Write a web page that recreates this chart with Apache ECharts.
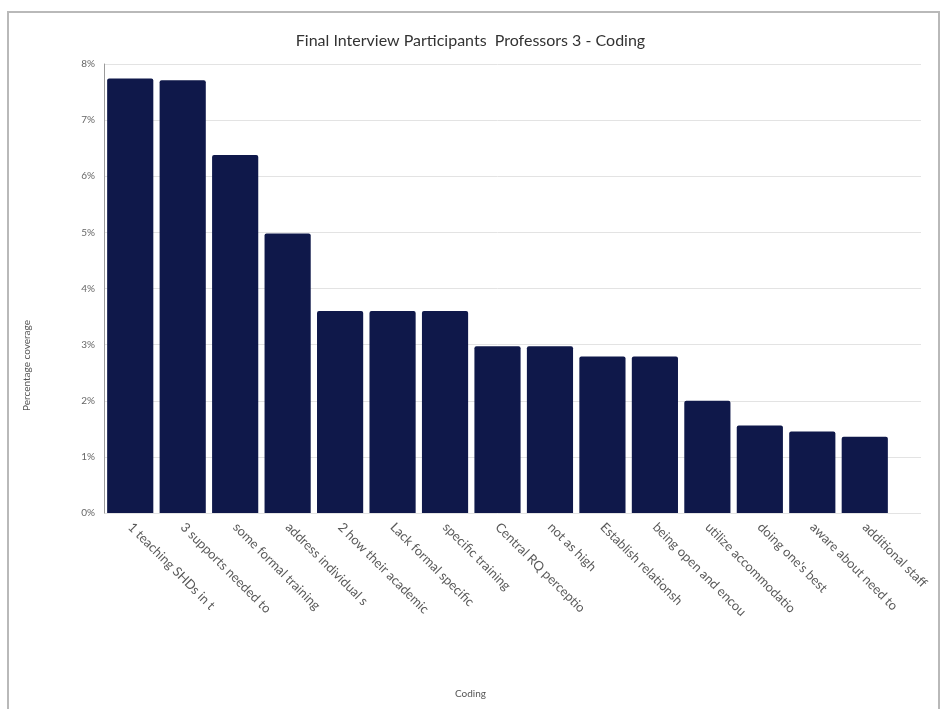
<!DOCTYPE html>
<html>
<head>
<meta charset="utf-8">
<script src="https://cdn.jsdelivr.net/npm/echarts@6/dist/echarts.min.js"></script>
<style>
  html, body { margin: 0; padding: 0; background: #fff; }
  #frame {
    position: absolute; left: 7px; top: 11px; width: 929px; height: 720px;
    border: 2px solid #b9b9b9; border-bottom: none;
  }
  #chart { position: absolute; left: 0; top: 0; width: 941px; height: 709px; }
</style>
</head>
<body>
<div id="frame"></div>
<div id="chart"></div>
<script>
// Coding categories (truncated node names) and their percentage coverage
const categories = [
  '1 teaching SHDs in t',
  '3 supports needed to',
  'some formal training',
  'address individual s',
  '2 how their academic',
  'Lack formal specific',
  'specific training',
  'Central RQ perceptio',
  'not as high',
  'Establish relationsh',
  'being open and encou',
  'utilize accommodatio',
  "doing one's best",
  'aware about need to',
  'additional staff'
];
const coverage = [7.74, 7.71, 6.38, 4.98, 3.6, 3.6, 3.6, 2.97, 2.97, 2.79, 2.79, 2.0, 1.56, 1.45, 1.36];

const yMin = 0, yMax = 8, yStep = 1;

const chart = echarts.init(document.getElementById('chart'));
const FONT = 'Lato';

chart.setOption({
  animation: false,
  textStyle: { fontFamily: FONT },
  title: [
    {
      text: 'Final Interview Participants  Professors 3 - Coding',
      left: 'center', top: 28,
      textStyle: { fontFamily: FONT, fontSize: 16, fontWeight: 'normal', color: '#333' }
    },
    {
      text: 'Coding',
      left: 'center', top: 684,
      textStyle: { fontFamily: FONT, fontSize: 10, fontWeight: 'normal', color: '#555' }
    }
  ],
  grid: [
    { left: 104, right: 50, top: 64, bottom: 196 },
    { left: 891, right: 20, top: 64, bottom: 196 }
  ],
  xAxis: [
    {
      type: 'category', gridIndex: 0, data: categories,
      axisLine: { show: false },
      axisTick: { show: false },
      axisLabel: {
        rotate: -45, interval: 0, margin: 12,
        fontFamily: FONT, fontSize: 13, color: '#5a5a5a'
      }
    },
    { type: 'value', gridIndex: 1, show: false }
  ],
  yAxis: [
    {
      type: 'value', gridIndex: 0, min: yMin, max: yMax, interval: yStep,
      name: 'Percentage coverage', nameLocation: 'middle', nameGap: 72,
      nameTextStyle: { fontFamily: FONT, fontSize: 10, color: '#555', padding: [0, 154, 0, 0] },
      axisLine: { show: true, lineStyle: { color: '#9a9a9a', width: 1 } },
      axisTick: { show: false },
      axisLabel: { formatter: '{value}%', fontFamily: FONT, fontSize: 10, color: '#666', margin: 9 },
      splitLine: { show: true, lineStyle: { color: '#e3e3e3', width: 1 } }
    },
    {
      type: 'value', gridIndex: 1, min: yMin, max: yMax, interval: yStep,
      axisLine: { show: false }, axisTick: { show: false }, axisLabel: { show: false },
      splitLine: { show: true, lineStyle: { color: '#e3e3e3', width: 1 } }
    }
  ],
  series: [
    {
      type: 'bar', xAxisIndex: 0, yAxisIndex: 0,
      data: coverage,
      barCategoryGap: '12%',
      itemStyle: { color: '#0f184a', borderRadius: [2, 2, 0, 0] }
    }
  ]
});
</script>
</body>
</html>
